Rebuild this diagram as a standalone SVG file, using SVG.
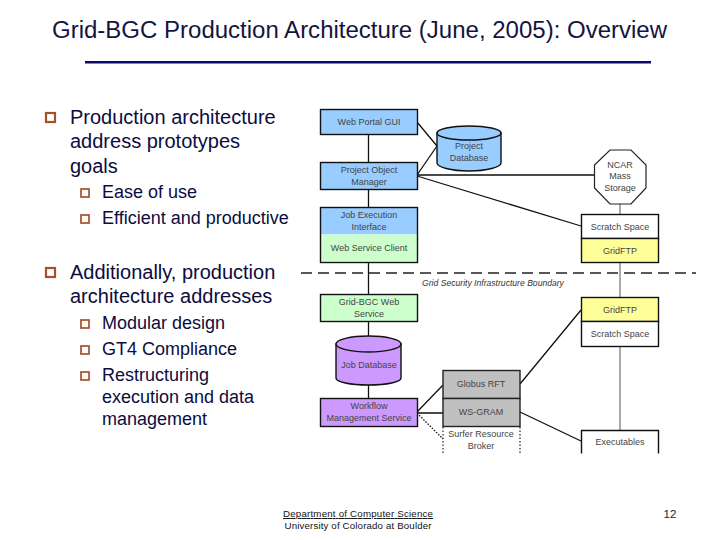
<svg xmlns="http://www.w3.org/2000/svg" width="720" height="540" viewBox="0 0 720 540">
<style>
text{font-family:"Liberation Sans",Arial,sans-serif}
.t{font-size:23px;fill:#14143f}
.l{font-size:20px;fill:#0c0c40}
.s{font-size:18px;fill:#0c0c40}
.n{font-size:9px;fill:#444;text-anchor:middle}
.b{stroke:#111;stroke-width:1.4}
.c{stroke:#111;stroke-width:1.3;fill:none}
.g{stroke:#555;stroke-width:1;fill:none}
.blue{fill:#99ccff}.green{fill:#ccffcc}.yellow{fill:#ffff99}.white{fill:#fff}.purple{fill:#cc99ff}.grey{fill:#c0c0c0}
.bu{fill:#fff;stroke:#a5502a;stroke-width:2.2}
.bv{fill:#fff;stroke:#a5502a;stroke-width:1.7}
.f{font-size:9.7px;fill:#111;text-anchor:middle}
</style>
<rect width="720" height="540" fill="#fff"/>
<text class="t" x="359.500" y="38" text-anchor="middle" textLength="615" lengthAdjust="spacingAndGlyphs">Grid-BGC Production Architecture (June, 2005): Overview</text>
<rect x="85" y="61" width="566" height="2.500" fill="#0a0a6e"/>

<g id="bullets">
<rect class="bu" x="46" y="113" width="9" height="9"/><rect class="bu" x="46" y="268" width="9" height="9"/>
<rect class="bv" x="81" y="189" width="8" height="8"/>
<rect class="bv" x="81" y="215" width="8" height="8"/>
<rect class="bv" x="81" y="320" width="8" height="8"/>
<rect class="bv" x="81" y="346" width="8" height="8"/>
<rect class="bv" x="81" y="372" width="8" height="8"/>
</g>
<g id="text-left">
<text class="l" x="70" y="124">Production architecture</text>
<text class="l" x="70" y="148">address prototypes</text>
<text class="l" x="70" y="173">goals</text>
<text class="s" x="102" y="198">Ease of use</text>
<text class="s" x="102" y="224">Efficient and productive</text>
<text class="l" x="70" y="279">Additionally, production</text>
<text class="l" x="70" y="303">architecture addresses</text>
<text class="s" x="102" y="329">Modular design</text>
<text class="s" x="102" y="355">GT4 Compliance</text>
<text class="s" x="102" y="381">Restructuring</text>
<text class="s" x="102" y="403">execution and data</text>
<text class="s" x="102" y="425">management</text>
</g>

<g id="connectors">
<path class="c" stroke-width="1.6" d="M368.500 134V162M368.500 189V207M368.500 262V294M368.500 322V336M368.500 385V398"/>
<path class="c" d="M417 122L437 146M417 175L437 146M417 175H595M417 176L581 226M417 412L443 385M417 413H443M520 384L581 310M520 412L581 441"/>
<path class="c" stroke-dasharray="1.500 1.500" d="M417 413L443 439"/>
<path class="g" d="M620 203V214M620 262V297M620 346V430"/>
<path stroke="#222" stroke-width="1.300" stroke-dasharray="11 6" fill="none" d="M301 273H696"/>
</g>
<text x="493" y="286" text-anchor="middle" font-size="8.600" font-style="italic" fill="#333">Grid Security Infrastructure Boundary</text>

<g id="web-portal"><rect class="blue b" x="320.500" y="109.500" width="97" height="25"/><text class="n" x="369" y="124.500">Web Portal GUI</text></g>
<g id="project-db"><path class="blue b" d="M437 133V163C437 167 451 171 469 171S501 167 501 163V133Z"/><ellipse class="blue b" cx="469" cy="133" rx="32" ry="7"/><text class="n" x="469" y="149">Project</text><text class="n" x="469" y="161">Database</text></g>
<g id="pom"><rect class="blue b" x="320.500" y="162.500" width="97" height="27"/><text class="n" x="369" y="173">Project Object</text><text class="n" x="369" y="185">Manager</text></g>
<g id="job-exec"><rect class="blue" x="320.500" y="207.500" width="97" height="27"/><rect class="green" x="320.500" y="234.500" width="97" height="27"/><rect fill="none" class="b" x="320.500" y="207.500" width="97" height="55"/><text class="n" x="369" y="218">Job Execution</text><text class="n" x="369" y="230">Interface</text><text class="n" x="369" y="251">Web Service Client</text></g>
<g id="ncar"><path fill="#fff" stroke="#222" stroke-width="1.200" d="M610 150H631L646 165V188L631 204H610L594.500 188V165Z"/><text class="n" x="620" y="168">NCAR</text><text class="n" x="620" y="179">Mass</text><text class="n" x="620" y="191">Storage</text></g>
<g id="scratch-top"><rect class="white b" x="581.500" y="214.500" width="77" height="24"/><text class="n" x="620" y="230">Scratch Space</text></g>
<g id="gridftp-top"><rect class="yellow b" x="581.500" y="238.500" width="77" height="24"/><text class="n" x="620" y="254">GridFTP</text></g>
<g id="gbws"><rect class="green b" x="320.500" y="294.500" width="97" height="27"/><text class="n" x="369" y="305">Grid-BGC Web</text><text class="n" x="369" y="317">Service</text></g>
<g id="job-db"><path class="purple b" d="M336 344V378C336 382 350 385 368.500 385S401 382 401 378V344Z"/><ellipse class="purple b" cx="368.500" cy="344" rx="32.500" ry="8"/><text class="n" x="369" y="368">Job Database</text></g>
<g id="workflow"><rect class="purple b" x="320.500" y="398.500" width="97" height="28"/><text class="n" x="369" y="409">Workflow</text><text class="n" x="369" y="421">Management Service</text></g>
<g id="globus"><rect class="grey" stroke="#222" stroke-width="1.400" x="443" y="370.500" width="77" height="28"/><text class="n" x="481" y="387">Globus RFT</text></g>
<g id="wsgram"><rect class="grey" stroke="#222" stroke-width="1.400" x="443" y="398.500" width="77" height="28"/><text class="n" x="481" y="415">WS-GRAM</text></g>
<g id="surfer"><path fill="none" stroke="#222" stroke-width="1.200" stroke-dasharray="1.500 2" d="M443 427V453M520 427V453"/><text class="n" x="481" y="437">Surfer Resource</text><text class="n" x="481" y="449">Broker</text></g>
<g id="gridftp-bottom"><rect class="yellow b" x="581.500" y="297.500" width="77" height="24"/><text class="n" x="620" y="313">GridFTP</text></g>
<g id="scratch-bottom"><rect class="white b" x="581.500" y="321.500" width="77" height="25"/><text class="n" x="620" y="337">Scratch Space</text></g>
<g id="executables"><path fill="#fff" class="b" d="M581.500 453.500V430.500H658.500V453.500"/><text class="n" x="620" y="445">Executables</text></g>

<text class="f" x="358" y="517" text-decoration="underline" textLength="150">Department of Computer Science</text>
<text class="f" x="358" y="529" textLength="147">University of Colorado at Boulder</text>
<text x="670" y="518" text-anchor="middle" font-size="11.500" fill="#222">12</text>
</svg>
